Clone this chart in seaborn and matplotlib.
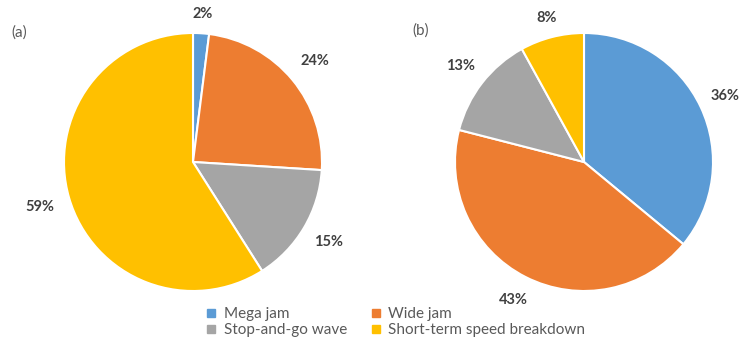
import seaborn as sns
import matplotlib.pyplot as plt
from matplotlib.lines import Line2D
import numpy as np

categories = ["Mega jam", "Wide jam", "Stop-and-go wave", "Short-term speed breakdown"]
share_a = [2, 24, 15, 59]
share_b = [36, 43, 13, 8]

sns.set_theme(style="white")
plt.rcParams['font.family'] = ['Lato', 'DejaVu Sans']
colors = sns.color_palette(["#5B9BD5", "#ED7D31", "#A5A5A5", "#FFC000"])

fig = plt.figure(figsize=(7.42, 3.45), dpi=100)

# pie centres / radius in pixels of the 742x345 canvas
W, H, R = 742, 345, 129


def pie_axes(cx, cy):
    return fig.add_axes([(cx - R) / W, 1 - (cy + R) / H, 2 * R / W, 2 * R / H])


def draw_pie(ax, values, dists):
    wedges, _ = ax.pie(values, colors=colors, startangle=90, counterclock=False,
                       wedgeprops=dict(edgecolor="white", linewidth=1.5))
    for w, v, d in zip(wedges, values, dists):
        ang = np.deg2rad((w.theta1 + w.theta2) / 2)
        ax.text(d * np.cos(ang), d * np.sin(ang), f"{v}%", ha="center", va="center",
                fontsize=10.5, fontweight="bold", color="#404040", clip_on=False)
    ax.set_xlim(-1, 1)
    ax.set_ylim(-1, 1)
    ax.axis("off")


ax1 = pie_axes(193, 162)
draw_pie(ax1, share_a, [1.15, 1.23, 1.22, 1.24])
ax2 = pie_axes(584, 162)
draw_pie(ax2, share_b, [1.21, 1.2, 1.21, 1.15])

fig.text(19 / W, 1 - 33 / H, "(a)", fontsize=11, color="#595959", ha="center", va="center")
fig.text(421 / W, 1 - 31 / H, "(b)", fontsize=11, color="#595959", ha="center", va="center")

handles = [Line2D([], [], marker="s", linestyle="", markersize=5.5, color=c) for c in colors]
order = [0, 2, 1, 3]
fig.legend([handles[i] for i in order], [categories[i] for i in order], ncol=2,
           loc="center", bbox_to_anchor=(396 / W, 1 - 322 / H), frameon=False,
           fontsize=11, labelcolor="#595959", handlelength=0.6, handletextpad=0.5,
           columnspacing=1.6, labelspacing=0.15, borderpad=0)

plt.savefig("out.png", dpi=100)
